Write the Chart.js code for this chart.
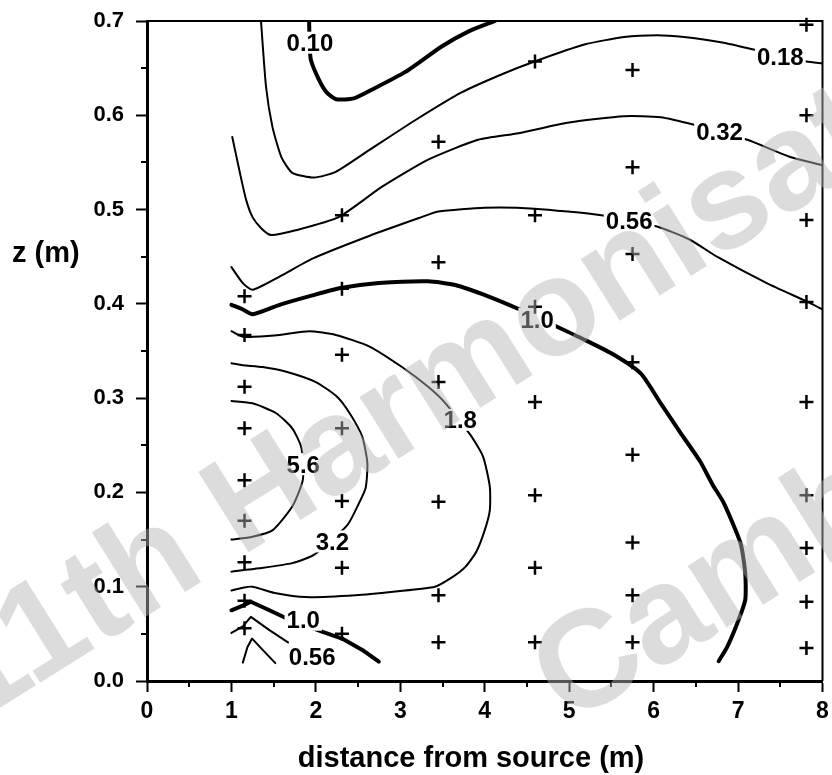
<!DOCTYPE html>
<html>
<head>
<meta charset="utf-8">
<script src="https://cdn.jsdelivr.net/npm/chart.js@4.4.1/dist/chart.umd.min.js"></script>
<style>
  html, body { margin: 0; padding: 0; background: #fff; }
  canvas { display: block; }
</style>
</head>
<body>
<canvas id="c" width="832" height="775" style="width:832px;height:775px"></canvas>
<script>
// Concentration contours, points as [distance (m), z (m)]
const contour010 = [[1.92,0.700],[1.925,0.680],[1.94,0.659],[2.04,0.637],[2.13,0.624],[2.24,0.617],[2.45,0.618],[2.66,0.627],[3.06,0.646],[3.49,0.673],[3.81,0.689],[4.12,0.700]];
const contour018 = [[1.35,0.700],[1.41,0.630],[1.485,0.588],[1.59,0.556],[1.72,0.539],[1.98,0.534],[2.235,0.540],[2.63,0.563],[3.18,0.595],[3.72,0.624],[4.19,0.643],[4.59,0.657],[5.18,0.675],[5.65,0.683],[6.04,0.685],[6.36,0.683],[6.83,0.677],[7.22,0.669],[7.81,0.657],[8.0,0.655]];
const contour032 = [[1.01,0.577],[1.10,0.539],[1.175,0.510],[1.25,0.492],[1.355,0.480],[1.47,0.473],[1.76,0.478],[2.27,0.492],[2.78,0.524],[3.33,0.553],[3.92,0.574],[4.40,0.581],[4.98,0.592],[5.65,0.599],[6.08,0.598],[6.48,0.590],[7.11,0.574],[7.61,0.556],[8.0,0.547]];
const contour056 = [[1.00,0.439],[1.135,0.422],[1.25,0.415],[1.57,0.429],[1.96,0.448],[2.63,0.472],[3.22,0.491],[3.45,0.498],[4.00,0.502],[4.59,0.501],[5.38,0.494],[6.04,0.482],[6.43,0.468],[6.75,0.450],[7.34,0.422],[7.85,0.401],[8.0,0.394]];
const contour100 = [[1.00,0.399],[1.135,0.394],[1.25,0.389],[1.57,0.399],[1.96,0.409],[2.31,0.417],[2.745,0.422],[3.33,0.424],[3.65,0.420],[4.04,0.408],[4.415,0.394],[4.85,0.376],[5.18,0.362],[5.53,0.346],[5.85,0.326],[6.08,0.295],[6.32,0.263],[6.55,0.233],[6.70,0.208],[6.83,0.189],[7.03,0.146],[7.085,0.114],[7.085,0.086],[6.99,0.061],[6.87,0.036],[6.77,0.021]];
const contour180 = [[1.00,0.371],[1.135,0.365],[1.25,0.365],[1.57,0.367],[1.92,0.371],[2.235,0.367],[2.63,0.355],[3.02,0.333],[3.33,0.312],[3.53,0.295],[3.83,0.261],[3.98,0.238],[4.06,0.206],[4.06,0.181],[4.00,0.160],[3.90,0.137],[3.77,0.121],[3.63,0.111],[3.41,0.100],[2.94,0.095],[2.47,0.091],[1.88,0.089],[1.53,0.093],[1.25,0.100],[1.135,0.099],[1.00,0.096]];
const contour320 = [[1.00,0.337],[1.135,0.335],[1.37,0.333],[1.65,0.328],[2.00,0.317],[2.245,0.302],[2.40,0.284],[2.55,0.259],[2.61,0.231],[2.59,0.205],[2.51,0.1885],[2.37,0.165],[1.98,0.134],[1.72,0.125],[1.33,0.1195],[1.00,0.116]];
const contour560 = [[1.00,0.297],[1.25,0.2945],[1.53,0.284],[1.72,0.268],[1.82,0.250],[1.85,0.230],[1.84,0.211],[1.72,0.185],[1.49,0.160],[1.25,0.153],[1.00,0.150]];
const contour100Low = [[1.00,0.075],[1.135,0.080],[1.23,0.084],[1.45,0.075],[1.65,0.0665],[2.08,0.052],[2.31,0.045],[2.55,0.033],[2.745,0.0205]];
const contour056Low = [[1.00,0.051],[1.135,0.058],[1.23,0.068],[1.45,0.054],[1.67,0.041]];
const contour032Low = [[1.135,0.0195],[1.19,0.036],[1.245,0.045],[1.37,0.033],[1.52,0.019]];

// Contour level labels
const labelText = ['0.10', '0.18', '0.32', '0.56', '1.0', '1.8', '3.2', '5.6', '1.0', '0.56'];
const labelX    = [1.93,   7.50,   6.78,   5.71,   4.62,  3.71,  2.195, 1.85,  1.85,  1.956];
const labelZ    = [0.677,  0.662,  0.583,  0.489,  0.384, 0.277, 0.148, 0.230, 0.065, 0.026];

// Sampling positions (+)
const sampleX = [1.155, 2.309, 3.452, 4.595, 5.75, 7.81];
const sampleZ1 = [0.408, 0.367, 0.312, 0.268, 0.213, 0.170, 0.126, 0.085, 0.056];
const sampleZ2 = [0.494, 0.416, 0.346, 0.268, 0.191, 0.120, 0.050];
const sampleZ3 = [0.572, 0.444, 0.317, 0.190, 0.091, 0.041];
const sampleZ4 = [0.657, 0.494, 0.397, 0.296, 0.197, 0.120, 0.041];
const sampleZ5 = [0.648, 0.545, 0.453, 0.338, 0.240, 0.147, 0.091, 0.041];
const sampleZ6 = [0.696, 0.600, 0.489, 0.402, 0.296, 0.197, 0.141, 0.084, 0.035];

// Axis ticks
const xMajor = [0, 1, 2, 3, 4, 5, 6, 7, 8];
const zMajor = [0.0, 0.1, 0.2, 0.3, 0.4, 0.5, 0.6, 0.7];

const FONT = '"Liberation Sans", Arial, Helvetica, sans-serif';
const toPts = a => a.map(([x, y]) => ({ x, y }));

const sampleColumns = [sampleZ1, sampleZ2, sampleZ3, sampleZ4, sampleZ5, sampleZ6];
const samplePts = [];
sampleColumns.forEach((col, i) => col.forEach(z => samplePts.push({ x: sampleX[i], y: z })));

const lineSets = [
  { data: contour010, w: 4, t: 0.2 },
  { data: contour018, w: 2, t: 0.2 },
  { data: contour032, w: 2, t: 0.2 },
  { data: contour056, w: 2, t: 0.2 },
  { data: contour100, w: 4, t: 0.2 },
  { data: contour180, w: 2, t: 0.2 },
  { data: contour320, w: 2, t: 0.2 },
  { data: contour560, w: 2, t: 0.2 },
  { data: contour100Low, w: 4, t: 0 },
  { data: contour056Low, w: 2, t: 0 },
  { data: contour032Low, w: 2, t: 0 }
];

const datasets = [{
  type: 'scatter',
  data: samplePts,
  pointStyle: 'cross',
  pointRadius: 7,
  pointBorderWidth: 2.5,
  borderColor: '#000',
  backgroundColor: '#000',
  showLine: false,
  clip: false
}].concat(lineSets.map(s => ({
  type: 'scatter',
  data: toPts(s.data),
  showLine: true,
  borderColor: '#000',
  borderWidth: s.w,
  pointRadius: 0,
  tension: s.t,
  borderCapStyle: 'round',
  borderJoinStyle: 'round'
})));

const decor = {
  id: 'decor',
  beforeDatasetDraw(chart, args) {
    if (args.index !== 0) return;
    const { ctx, scales: { x, y } } = chart;
    ctx.save();
    const size = 24;
    ctx.font = `bold ${size}px ${FONT}`;
    ctx.textAlign = 'center';
    ctx.textBaseline = 'alphabetic';
    labelText.forEach((t, i) => {
      const px = x.getPixelForValue(labelX[i]);
      const py = y.getPixelForValue(labelZ[i]);
      const w = ctx.measureText(t).width;
      ctx.fillStyle = '#fff';
      ctx.fillRect(px - w / 2 - 2, py - 11, w + 4, 22);
      ctx.fillStyle = '#000';
      ctx.fillText(t, px, py + size * 0.358);
    });
    ctx.restore();
  },
  afterDraw(chart) {
    const { ctx, chartArea: a, scales: { x, y } } = chart;
    ctx.save();
    // frame top / right
    ctx.strokeStyle = '#000';
    ctx.lineWidth = 2;
    ctx.beginPath();
    ctx.moveTo(a.left, a.top);
    ctx.lineTo(a.right, a.top);
    ctx.lineTo(a.right, a.bottom);
    ctx.stroke();
    // minor ticks
    ctx.lineWidth = 2;
    ctx.beginPath();
    for (let i = 0; i < xMajor.length - 1; i++) {
      const px = Math.round(x.getPixelForValue((xMajor[i] + xMajor[i + 1]) / 2));
      ctx.moveTo(px, a.bottom);
      ctx.lineTo(px, a.bottom + 6);
    }
    for (let i = 0; i < zMajor.length - 1; i++) {
      const py = Math.round(y.getPixelForValue((zMajor[i] + zMajor[i + 1]) / 2));
      ctx.moveTo(a.left, py);
      ctx.lineTo(a.left - 6, py);
    }
    ctx.stroke();
    // axis titles
    ctx.fillStyle = '#000';
    ctx.font = `bold 29px ${FONT}`;
    ctx.textBaseline = 'alphabetic';
    ctx.textAlign = 'center';
    ctx.fillText('distance from source (m)', 471, 767);
    ctx.textAlign = 'left';
    ctx.fillText('z (m)', 12, 262);
    // watermark
    ctx.fillStyle = 'rgba(181,181,181,0.47)';
    ctx.font = `bold 138px ${FONT}`;
    ctx.textAlign = 'left';
    ctx.textBaseline = 'alphabetic';
    const ang = -32 * Math.PI / 180;
    ctx.save();
    ctx.translate(-26, 724);
    ctx.rotate(ang);
    ctx.fillText('11th Harmonisation', 0, 0);
    ctx.restore();
    ctx.save();
    ctx.translate(569, 726);
    ctx.rotate(ang);
    ctx.fillText('Cambridge', 0, 0);
    ctx.restore();
    ctx.restore();
  }
};

const noPad = s => { s.paddingLeft = 0; s.paddingRight = 0; s.paddingTop = 0; s.paddingBottom = 0; };

new Chart(document.getElementById('c'), {
  type: 'scatter',
  data: { datasets },
  options: {
    responsive: false,
    animation: false,
    devicePixelRatio: 1,
    layout: { padding: { top: 21, right: 6, left: 0, bottom: 0 } },
    plugins: { legend: { display: false }, tooltip: { enabled: false } },
    scales: {
      x: {
        type: 'linear', min: 0, max: 8,
        afterBuildTicks: s => { s.ticks = xMajor.map(v => ({ value: v })); },
        ticks: { color: '#000', font: { family: FONT, size: 23, weight: 'bold' }, padding: 6, maxRotation: 0, autoSkip: false,
                 callback: v => String(v) },
        grid: { drawOnChartArea: false, tickLength: 11, tickWidth: 2, tickColor: '#000' },
        border: { display: true, color: '#000', width: 3 },
        afterFit: s => { s.height = 94; noPad(s); }
      },
      y: {
        type: 'linear', min: 0, max: 0.7,
        afterBuildTicks: s => { s.ticks = zMajor.map(v => ({ value: v })); },
        ticks: { color: '#000', font: { family: FONT, size: 22, weight: 'bold' }, padding: 12, autoSkip: false,
                 callback: v => Number(v).toFixed(1) },
        grid: { drawOnChartArea: false, tickLength: 11, tickWidth: 2, tickColor: '#000' },
        border: { display: true, color: '#000', width: 3 },
        afterFit: s => { s.width = 147; noPad(s); }
      }
    }
  },
  plugins: [decor]
});
</script>
</body>
</html>
